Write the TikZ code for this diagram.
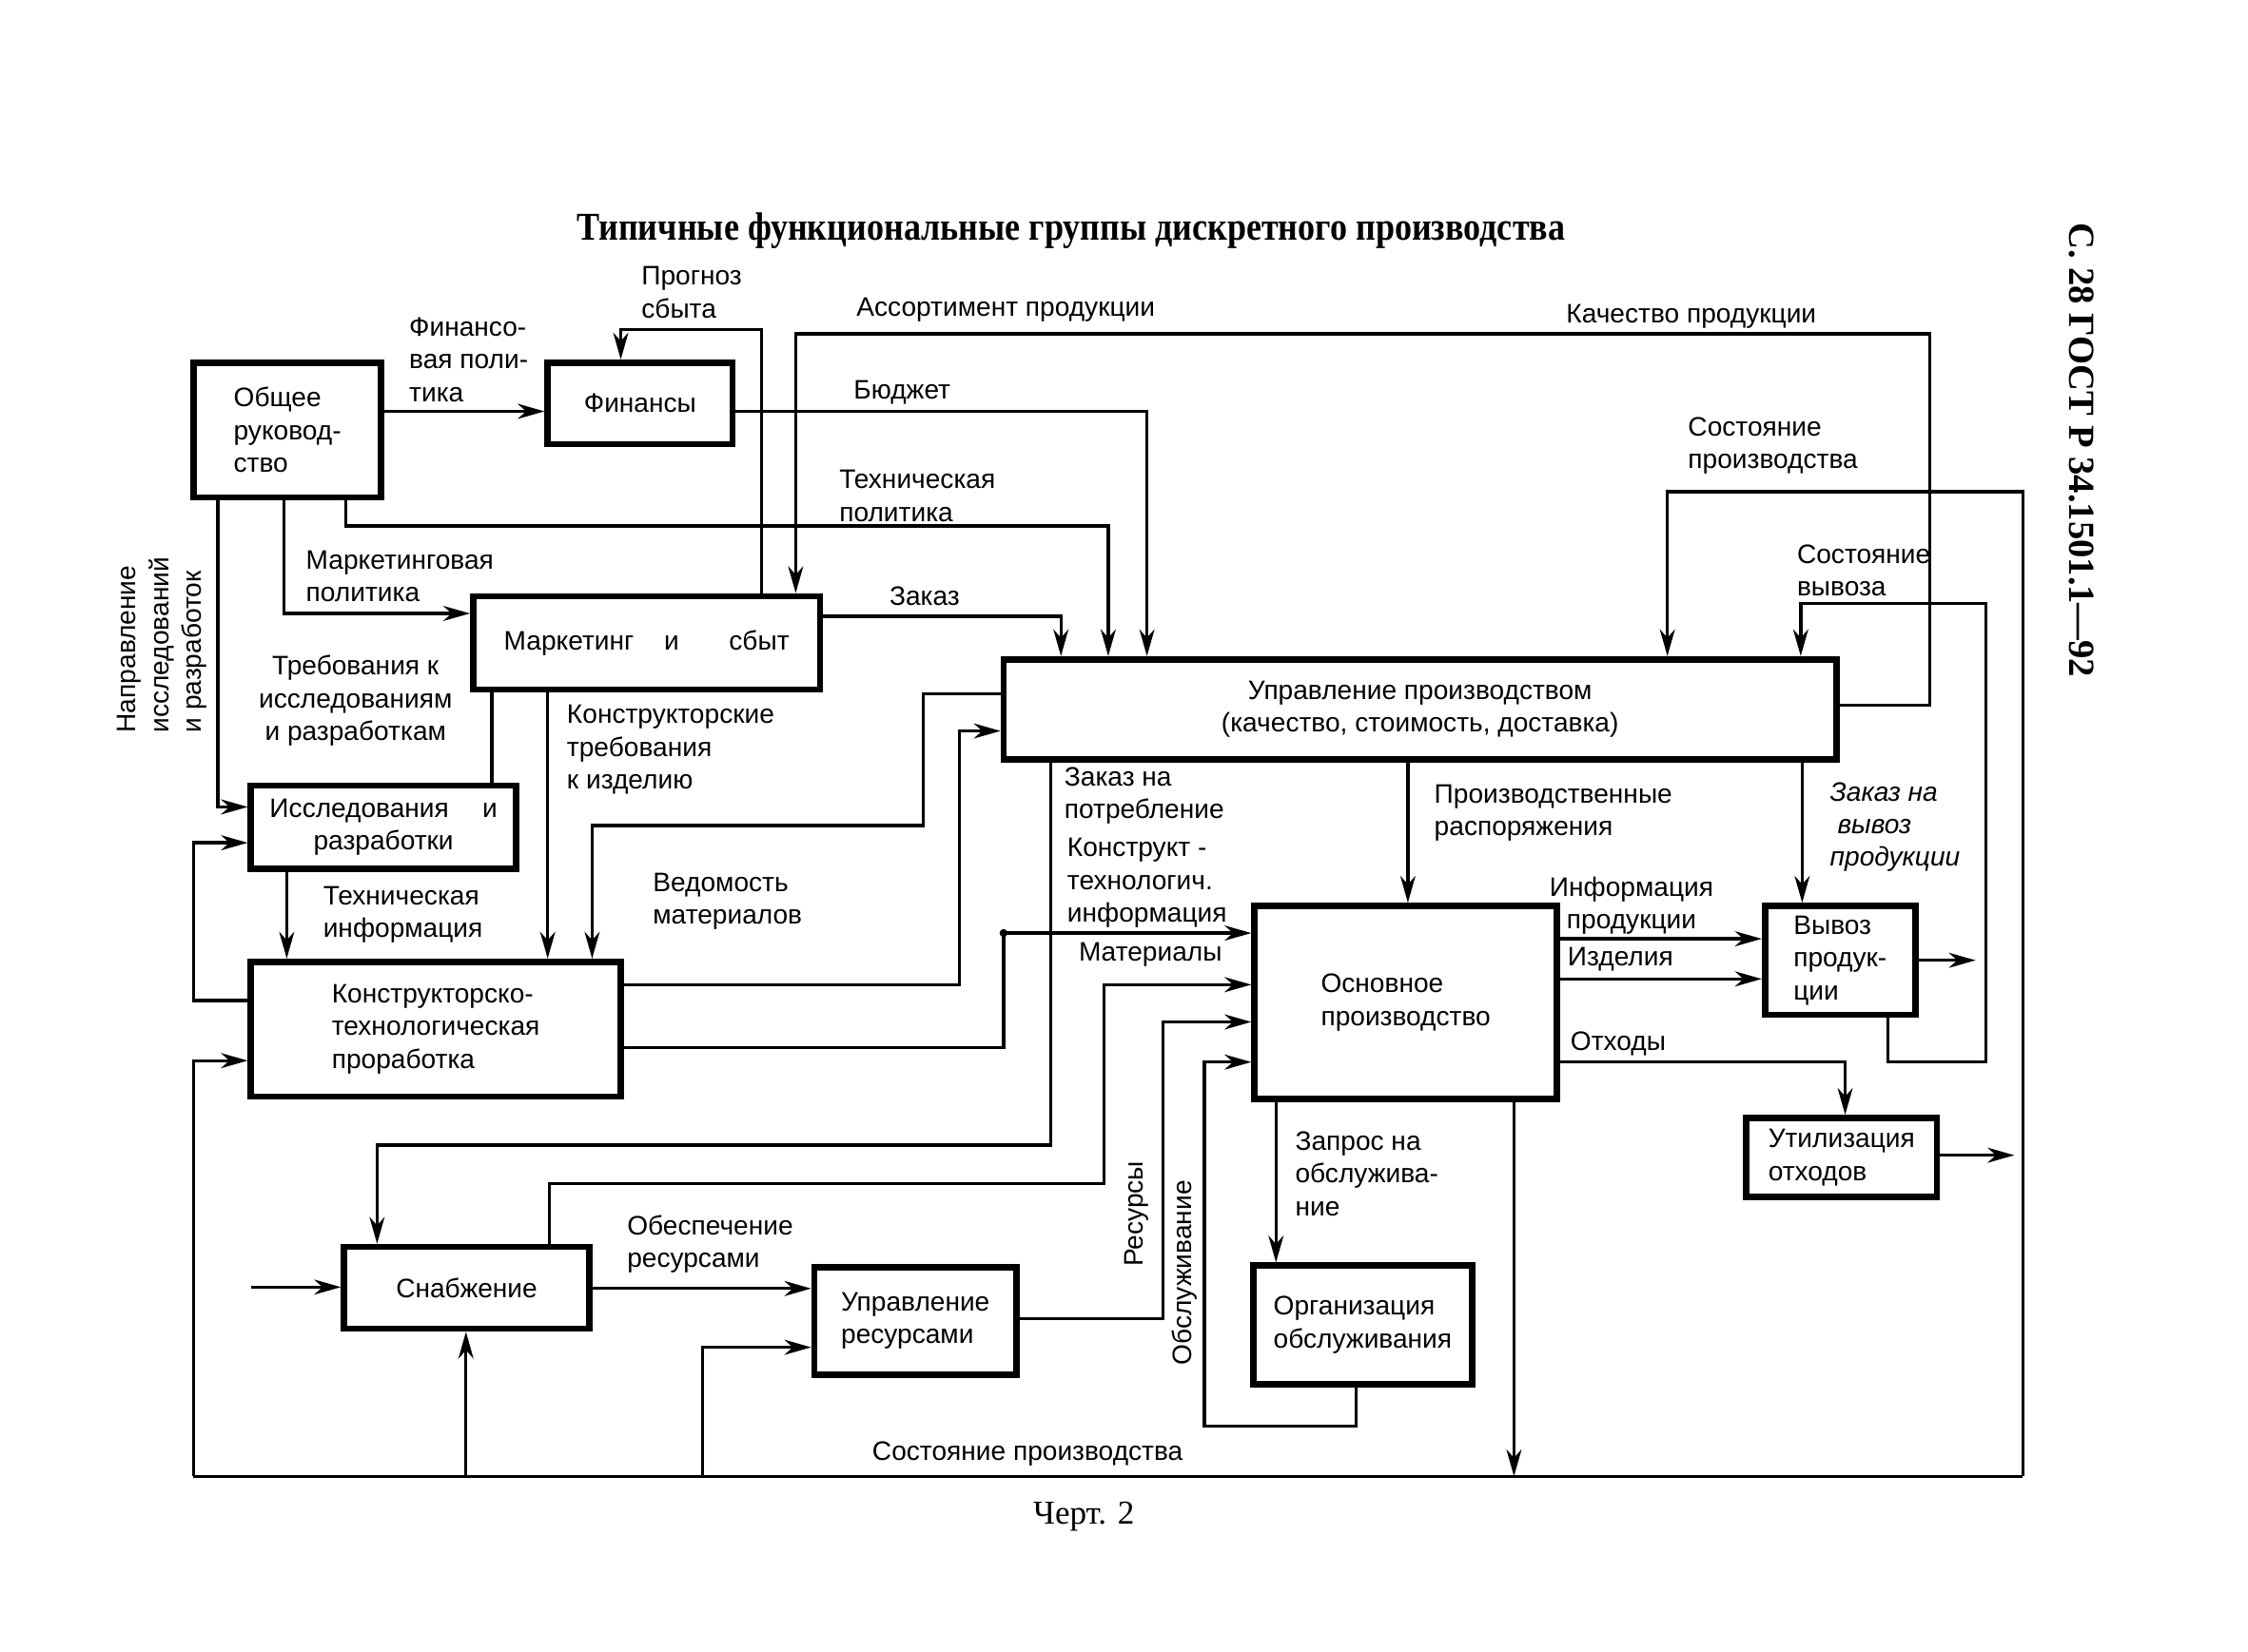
\documentclass[tikz,border=0pt]{standalone}
\usepackage{fontspec}
\setmainfont{Liberation Sans}
\newfontfamily\serifrm{Liberation Serif}
\usetikzlibrary{arrows.meta}
\newcommand\mylbl{\fontsize{8}{9.8}\selectfont}
\begin{document}
\begin{tikzpicture}[x=0.01507cm,y=-0.01507cm,
  box/.style={draw, line width=1.9pt, inner sep=1pt, font=\mylbl},
  conn/.style={line width=0.95pt},
  arr/.style={conn,-{Stealth[length=8pt,width=4.5pt,inset=2.5pt]}},
  lab/.style={font=\mylbl, align=left, inner sep=0pt, anchor=west}]
\useasboundingbox (0,0) rectangle (1568,1152);

% titles
\node[font=\serifrm\bfseries\fontsize{11.8}{13}\selectfont, xscale=0.87] (title) at (747,161) {Типичные функциональные группы дискретного производства};
\node[font=\serifrm\fontsize{10}{12}\selectfont] (chert) at (756,1058) {Черт. 2};
\node[font=\serifrm\bfseries\fontsize{11}{13}\selectfont, rotate=-90] (gost) at (1452,314) {С. 28 ГОСТ Р 34.1501.1—92};

% boxes
\node[box, minimum width=1.974cm, minimum height=1.417cm, align=left] (gen) at (200.5,300) {Общее\\руковод-\\ство};
\node[box, minimum width=1.944cm, minimum height=0.859cm] (fin) at (446.5,281.5) {Финансы};
\node[box, minimum width=3.647cm, minimum height=0.980cm] (mkt) at (451,448.5) {Маркетинг\hspace{9pt}и\hspace{15pt}сбыт};
\node[box, minimum width=2.788cm, minimum height=0.874cm, align=center] (rnd) at (267.5,577) {Исследования\hspace{10pt}и\\разработки};
\node[box, minimum width=3.888cm, minimum height=1.417cm, align=left] (ktp) at (304,718) {Конструкторско-\\технологическая\\проработка};
\node[box, minimum width=8.756cm, minimum height=1.055cm, align=center] (upr) at (990.5,495) {Управление производством\\(качество, стоимость, доставка)};
\node[box, minimum width=3.180cm, minimum height=2.034cm, align=left] (osn) at (980.5,699.5) {Основное\\производство};
\node[box, minimum width=1.582cm, minimum height=1.145cm, align=left] (vyv) at (1283.5,670) {Вывоз\\продук-\\ции};
\node[box, minimum width=2.004cm, minimum height=0.829cm, align=left] (util) at (1284.5,807.5) {Утилизация\\отходов};
\node[box, minimum width=2.577cm, minimum height=0.859cm] (snab) at (325.5,898.5) {Снабжение};
\node[box, minimum width=2.125cm, minimum height=1.130cm, align=left] (res) at (638.5,921.5) {Управление\\ресурсами};
\node[box, minimum width=2.306cm, minimum height=1.251cm, align=left] (org) at (950.5,924.5) {Организация\\обслуживания};

% free ends
\coordinate (vyvout) at (1378,670);
\coordinate (utilout) at (1405,806);
\coordinate (snabin) at (175,898);
\coordinate (bl) at (135,1030);
\coordinate (br) at (1411,1030);
\coordinate (bmid) at (1056,1030);

% connectors
\draw[arr] (gen.east |- 0,287) -- (fin.west |- 0,287);
\draw[arr] (531,0 |- mkt.north) |- (433,230) -- (433,0 |- fin.north);
\draw[arr] (upr.east |- 0,492) -| (1346,233) -| (555,0 |- mkt.north);
\draw[arr] (fin.east |- 0,287) -| (800,0 |- upr.north);
\draw[arr] (241,0 |- gen.south) |- (773,367) -- (773,0 |- upr.north);
\draw[arr] (198,0 |- gen.south) |- (mkt.west |- 0,428);
\draw[arr] (152,0 |- gen.south) |- (rnd.west |- 0,563);
\draw[arr] (mkt.east |- 0,430) -| (740,0 |- upr.north);
\draw[conn] (343,0 |- mkt.south) -- (343,0 |- rnd.north);
\draw[arr] (382,0 |- mkt.south) -- (382,0 |- ktp.north);
\draw[arr] (200,0 |- rnd.south) -- (200,0 |- ktp.north);
\draw[arr] (upr.west |- 0,484) -| (644,576) -| (413,0 |- ktp.north);
\draw[arr] (ktp.east |- 0,687) -| (669,510) -- (upr.west |- 0,510);
\draw[arr] (ktp.east |- 0,731) -| (700,651) -- (osn.west |- 0,651);
\fill (700,651) circle (1.2pt);
\draw[arr] (733,0 |- upr.south) |- (263,799) -- (263,0 |- snab.north);
\draw[arr] (383,0 |- snab.north) |- (770,826) |- (osn.west |- 0,687);
\draw[arr] (res.east |- 0,920) -| (811,713) -- (osn.west |- 0,713);
\draw[arr] (946,0 |- org.south) |- (840,995) |- (osn.west |- 0,741);
\draw[arr] (890,0 |- osn.south) -- (890,0 |- org.north);
\draw[arr] (982,0 |- upr.south) -- (982,0 |- osn.north);
\draw[arr] (1257,0 |- upr.south) -- (1257,0 |- vyv.north);
\draw[arr] (osn.east |- 0,655) -- (vyv.west |- 0,655);
\draw[arr] (osn.east |- 0,683) -- (vyv.west |- 0,683);
\draw[arr] (vyv.east |- vyvout) -- (vyvout);
\draw[arr] (osn.east |- 0,741) -| (1287,0 |- util.north);
\draw[arr] (util.east |- utilout) -- (utilout);
\draw[arr] (snabin) -- (snab.west |- snabin);
\draw[arr] (snab.east |- 0,899) -- (res.west |- 0,899);
\draw[arr] (1317,0 |- vyv.south) |- (1385,741) |- (1256,421) -- (1256,0 |- upr.north);
\draw[arr] (1056,0 |- osn.south) -- (bmid);
\draw[conn] (bl) -- (br);
\draw[arr] (br) |- (1163,343) -- (1163,0 |- upr.north);
\draw[arr] (bl) |- (ktp.west |- 0,740);
\draw[arr] (325,0 |- bl) -- (325,0 |- snab.south);
\draw[arr] (490,0 |- bl) |- (res.west |- 0,940);
\draw[arr] (ktp.west |- 0,698) -| (135,588) -- (rnd.west |- 0,588);

% labels
\node[lab] (lProg) at (447,204) {Прогноз\\сбыта};
\node[lab] (lFinPol) at (285,251) {Финансо-\\вая поли-\\тика};
\node[lab] (lAss) at (597,216) {Ассортимент продукции};
\node[lab] (lKach) at (1092,221) {Качество продукции};
\node[lab] (lBud) at (595,274) {Бюджет};
\node[lab] (lSostP) at (1177,311) {Состояние\\производства};
\node[lab] (lTechPol) at (585,346) {Техническая\\политика};
\node[lab] (lMarkPol) at (213,402) {Маркетинговая\\политика};
\node[lab] (lSostV) at (1253,398) {Состояние\\вывоза};
\node[lab] (lZak) at (620,416) {Заказ};
\node[lab, align=center, anchor=center] (lTreb) at (248,489) {Требования к\\исследованиям\\и разработкам};
\node[lab] (lKonstr) at (395,523) {Конструкторские\\требования\\к изделию};
\node[lab] (lZakPot) at (742,555) {Заказ на\\потребление};
\node[lab] (lProizv) at (1000,567) {Производственные\\распоряжения};
\node[lab, font=\mylbl\itshape] (lZakVyv) at (1276,577) {Заказ на\\\ вывоз\\продукции};
\node[lab] (lKTI) at (744,616) {Конструкт -\\технологич.\\информация};
\node[lab] (lVed) at (455,629) {Ведомость\\материалов};
\node[lab] (lTechInf) at (225,638) {Техническая\\информация};
\node[lab, align=center, anchor=center] (lInfProd) at (1138,632) {Информация\\продукции};
\node[lab] (lIzd) at (1093,669) {Изделия};
\node[lab] (lMat) at (752,666) {Материалы};
\node[lab] (lOtx) at (1095,728) {Отходы};
\node[lab] (lZapr) at (903,819) {Запрос на\\обслужива-\\ние};
\node[lab] (lObesp) at (437,868) {Обеспечение\\ресурсами};
\node[lab, rotate=90, anchor=center] (lRes) at (793,847) {Ресурсы};
\node[lab, rotate=90, anchor=center] (lObsl) at (826,888) {Обслуживание};
\node[lab] (lSostBot) at (608,1014) {Состояние производства};
\node[lab, rotate=90, anchor=center] (lNapr) at (113,450) {Направление\\исследований\\и разработок};
\end{tikzpicture}
\end{document}
